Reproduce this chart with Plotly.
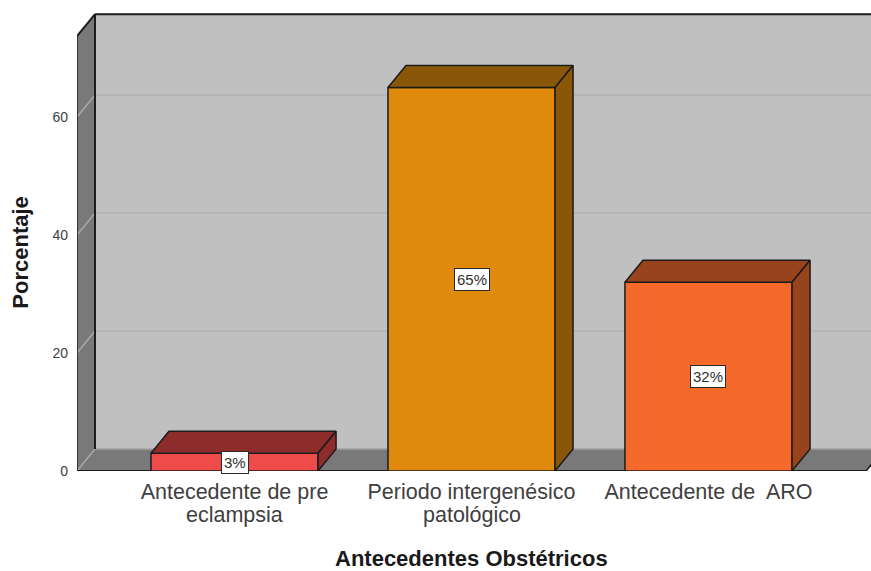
import plotly.graph_objects as go

# Data
first_lines = ["Antecedente de pre", "Periodo intergenésico", "Antecedente de  ARO"]
second_lines = ["eclampsia", "patológico", ""]
percentages = [3, 65, 32]
positions = [0, 1, 2]
y_ticks = [0, 20, 40, 60]
face_colors = ["#ef4b4b", "#e08a0d", "#f5692b"]
shade_colors = ["#8e2c2c", "#8a5708", "#97431c"]

# Extent of the pseudo-3D box, in axis units
BAR_W = 0.705
DX, DY = 0.076, 3.73
X_L, X_R = -0.6646, 2.665
Y_TOP = 73.7
EDGE = "#1c1c1c"
WALL = "#c0c0c0"
SIDE = "#797979"
GRID = "#b3b3b3"
FONT = "Liberation Sans"


def poly(points, fill):
    path = "M " + " L ".join(f"{x},{y}" for x, y in points) + " Z"
    return dict(type="path", path=path, xref="x", yref="y", layer="below",
                fillcolor=fill, line=dict(color=fill, width=0))


def seg(x0, y0, x1, y1, color, width=1.5):
    return dict(type="line", x0=x0, y0=y0, x1=x1, y1=y1, xref="x", yref="y",
                layer="below", line=dict(color=color, width=width))


shapes = [
    poly([(X_L + DX, DY), (X_R + DX, DY), (X_R + DX, Y_TOP + DY), (X_L + DX, Y_TOP + DY)], WALL),
    poly([(X_L, 0), (X_L + DX, DY), (X_L + DX, Y_TOP + DY), (X_L, Y_TOP)], SIDE),
    poly([(X_L, 0), (X_R, 0), (X_R + DX, DY), (X_L + DX, DY)], SIDE),
]
for t in y_ticks[1:]:
    shapes.append(seg(X_L + DX, t + DY, X_R + DX, t + DY, GRID))
    shapes.append(seg(X_L, t, X_L + DX, t + DY, "#a8a8a8"))
shapes += [
    seg(X_L + DX, DY, X_R + DX, DY, "#a3a3a3"),
    seg(X_L, 0, X_L + DX, DY, "#a8a8a8"),
    seg(X_L, 0, X_R, 0, EDGE, 2),
    seg(X_R, 0, X_R + DX, DY, EDGE),
    seg(X_L, 0, X_L, Y_TOP, EDGE),
    seg(X_L + DX, DY, X_L + DX, Y_TOP + DY, EDGE, 2),
    seg(X_L, Y_TOP, X_L + DX, Y_TOP + DY, EDGE, 2),
    seg(X_L + DX, Y_TOP + DY, X_R + DX, Y_TOP + DY, EDGE, 2),
]

fig = go.Figure()

# Front faces
fig.add_trace(go.Bar(
    x=positions, y=percentages, width=BAR_W,
    marker=dict(color=face_colors, line=dict(color=EDGE, width=1.5)),
    hoverinfo="skip", showlegend=False,
))

# Top and side faces of each bar
for pos, val, shade in zip(positions, percentages, shade_colors):
    left, right = pos - BAR_W / 2, pos + BAR_W / 2
    fig.add_trace(go.Scatter(
        x=[left, right, right + DX, left + DX, left],
        y=[val, val, val + DY, val + DY, val],
        mode="lines", fill="toself", fillcolor=shade,
        line=dict(color=EDGE, width=1.5), hoverinfo="skip", showlegend=False,
    ))
    fig.add_trace(go.Scatter(
        x=[right, right + DX, right + DX, right, right],
        y=[0, DY, val + DY, val, 0],
        mode="lines", fill="toself", fillcolor=shade,
        line=dict(color=EDGE, width=1.5), hoverinfo="skip", showlegend=False,
    ))

# Value labels
annotations = [
    dict(x=pos, y=val / 2, text=f"{val}%", showarrow=False, xref="x", yref="y",
         font=dict(family=FONT, size=15, color="#303030"),
         bgcolor="white", bordercolor="#2a2a2a", borderwidth=1, borderpad=2)
    for pos, val in zip(positions, percentages)
]

# Second line of the wrapped category labels, set tighter than <br> allows
annotations += [
    dict(x=pos, y=0, text=line, showarrow=False, xref="x", yref="y", yshift=-44,
         font=dict(family=FONT, size=21.5, color="#404040"))
    for pos, line in zip(positions, second_lines) if line
]

# Axis titles
annotations += [
    dict(x=1, y=0, yshift=-87, xref="x", yref="y", showarrow=False,
         text="<b>Antecedentes Obstétricos</b>",
         font=dict(family=FONT, size=22, color="#1a1a1a")),
    dict(x=X_L, y=37, xshift=-56, xref="x", yref="y", showarrow=False, textangle=-90,
         text="<b>Porcentaje</b>",
         font=dict(family=FONT, size=22, color="#1a1a1a")),
]

fig.update_layout(
    width=871, height=571,
    margin=dict(l=77, r=0, t=0, b=100, pad=0),
    paper_bgcolor="white", plot_bgcolor="white",
    shapes=shapes, annotations=annotations,
    font=dict(family=FONT),
    xaxis=dict(
        range=[X_L, 2.6857], showgrid=False, zeroline=False, showline=False,
        tickmode="array", tickvals=positions, ticktext=first_lines, ticks="",
        ticklabelstandoff=5,
        tickfont=dict(size=21.5, color="#404040"),
    ),
    yaxis=dict(
        range=[0, 79.83], showgrid=False, zeroline=False, showline=False,
        tickmode="array", tickvals=y_ticks, ticks="", ticklabelstandoff=8,
        tickfont=dict(size=14, color="#404040"),
    ),
)

fig.write_html("out.html", config=dict(displayModeBar=False))
